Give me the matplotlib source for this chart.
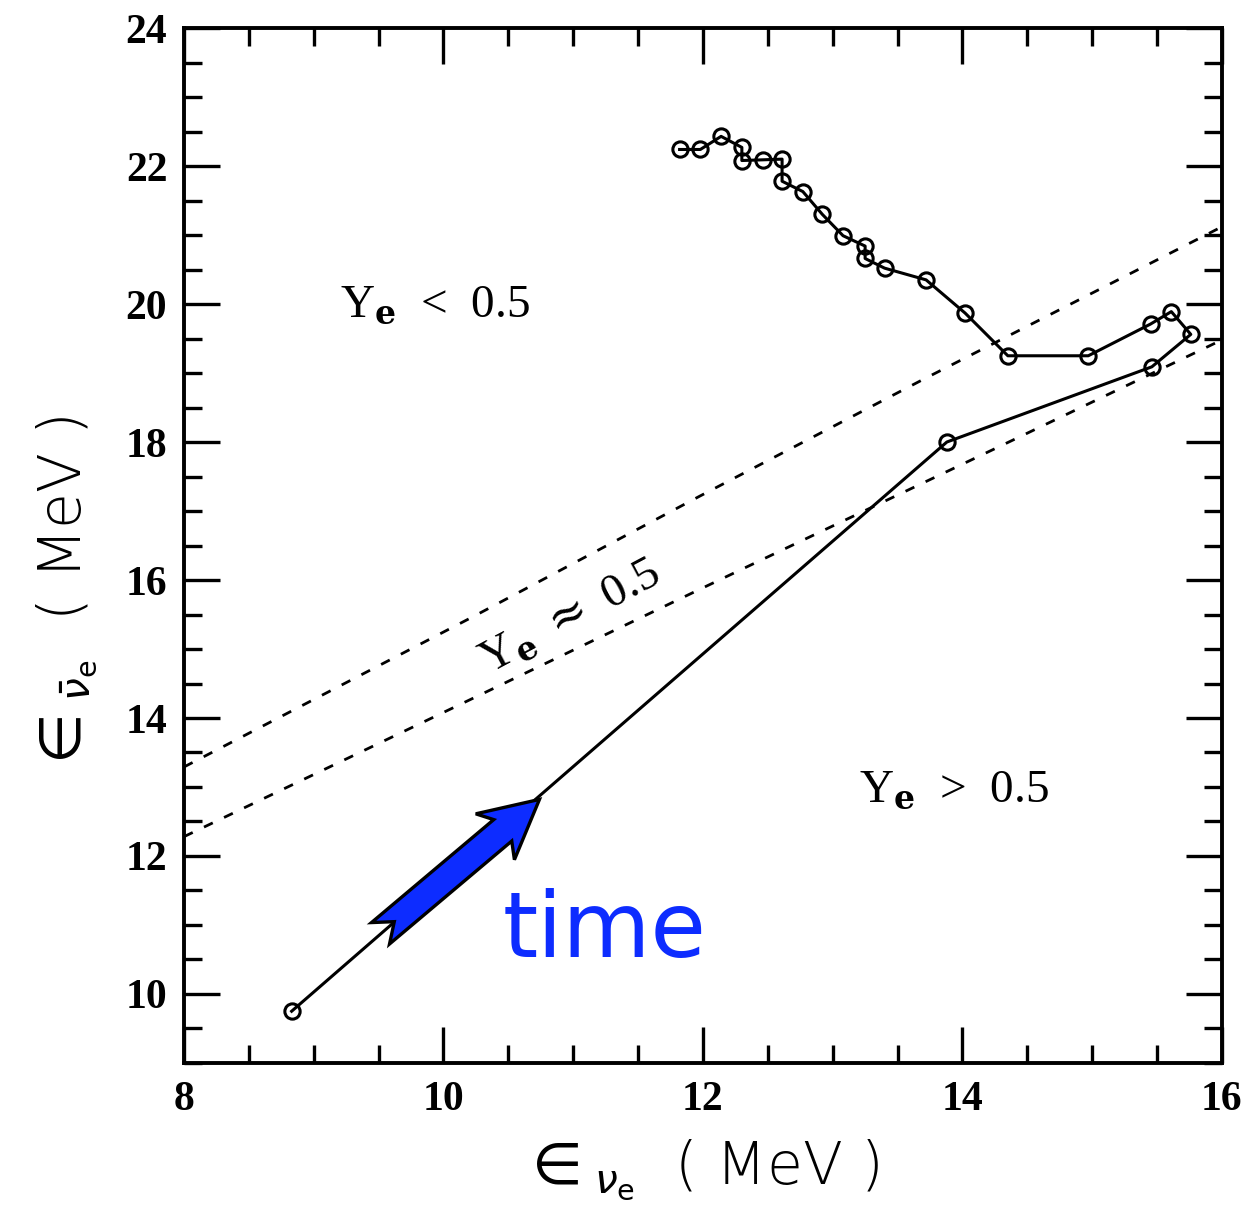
import matplotlib
matplotlib.use('Agg')
import matplotlib.pyplot as plt
from matplotlib.patches import Polygon
from matplotlib.ticker import MultipleLocator
import numpy as np

# track of mean energies (nu_e, anti nu_e), in time order
track_x = [8.83, 13.88, 15.46, 15.76, 15.61, 15.45, 14.97, 14.35, 14.02, 13.72,
           13.40, 13.25, 13.25, 13.08, 12.92, 12.77, 12.61, 12.61, 12.46, 12.30,
           12.30, 12.14, 11.98, 11.82]
track_y = [9.75, 18.00, 19.09, 19.56, 19.89, 19.71, 19.25, 19.25, 19.87, 20.35,
           20.52, 20.66, 20.84, 20.99, 21.30, 21.63, 21.78, 22.10, 22.09, 22.08,
           22.27, 22.43, 22.24, 22.24]

# Ye ~ 0.5 band boundaries
upper_x = [8.0, 10.25, 11.97, 13.69, 16.0]
upper_y = [13.29, 15.49, 17.21, 18.90, 21.12]
lower_x = [8.0, 10.31, 11.97, 14.28, 16.0]
lower_y = [12.28, 14.36, 15.86, 17.93, 19.48]

# time arrow (tail, tip)
arrow_tail = (9.515, 10.88)
arrow_tip = (10.74, 12.82)

blue = '#0d2cff'

fig = plt.figure(figsize=(12.48, 12.14), dpi=100)
ax = fig.add_axes([0.1474, 0.1244, 0.8317, 0.8525])

ax.plot(upper_x, upper_y, color='black', lw=2.0, dashes=(3.5, 4.5))
ax.plot(lower_x, lower_y, color='black', lw=2.0, dashes=(3.5, 4.5))
ax.plot(track_x, track_y, color='black', lw=2.2, marker='o', ms=11,
        mfc='none', mec='black', mew=2.2)

ax.set_xlim(8, 16)
ax.set_ylim(9, 24)
ax.xaxis.set_major_locator(MultipleLocator(2))
ax.xaxis.set_minor_locator(MultipleLocator(0.5))
ax.yaxis.set_major_locator(MultipleLocator(2))
ax.yaxis.set_minor_locator(MultipleLocator(0.5))
ax.tick_params(which='both', direction='in', top=True, right=True, width=2.4)
ax.tick_params(which='major', length=26)
ax.tick_params(which='minor', length=13)
ax.tick_params(axis='x', pad=13)
ax.tick_params(axis='y', pad=12)
for sp in ax.spines.values():
    sp.set_linewidth(2.8)
for lab in ax.get_xticklabels() + ax.get_yticklabels():
    lab.set_fontfamily('Liberation Serif')
    lab.set_fontweight('bold')
    lab.set_fontsize(30)

plt.rcParams['mathtext.fontset'] = 'dejavusans'
ax.set_xlabel(r'$\in_{\nu_\mathrm{e}}$  ( MeV )', fontsize=42, fontfamily='DejaVu Sans',
              fontweight='light')
ax.set_ylabel(r'$\in_{\bar{\nu}_\mathrm{e}}$  ( MeV )', fontsize=42, fontfamily='DejaVu Sans',
              fontweight='light')
ax.xaxis.set_label_coords(0.497, -0.072)
ax.yaxis.set_label_coords(-0.082, 0.452)

region_kw = dict(fontsize=34, fontfamily='Liberation Serif', math_fontfamily='dejavuserif')
ax.text(9.2, 19.81, r'Y$_\mathbf{e}$  <  0.5', ha='left', va='baseline', **region_kw)
ax.text(13.2, 12.78, r'Y$_\mathbf{e}$  >  0.5', ha='left', va='baseline', **region_kw)
ax.text(10.98, 15.45, r'Y$_\mathbf{e}$ $\approx$ 0.5', ha='center', va='center',
        rotation=28, rotation_mode='anchor', **region_kw)

ax.text(11.24, 10.9, 'time', fontsize=65, color=blue, fontfamily='DejaVu Sans',
        ha='center', va='center')

# notched block arrow, shaped in pixel space then mapped back to data
fig.canvas.draw()
p0 = ax.transData.transform(arrow_tail)
p1 = ax.transData.transform(arrow_tip)
d = p1 - p0
L = np.hypot(*d)
u = d / L
n = np.array([-u[1], u[0]])
shape = [(0, 14), (L - 48, 14), (L - 58, 30), (L, 0), (L - 58, -30),
         (L - 48, -14), (0, -14), (18, 0)]
pts = [p0 + a * u + c * n for a, c in shape]
pts = ax.transData.inverted().transform(pts)
ax.add_patch(Polygon(pts, closed=True, facecolor=blue, edgecolor='black', lw=2.4, zorder=5))

fig.savefig('out.png', dpi=100)
